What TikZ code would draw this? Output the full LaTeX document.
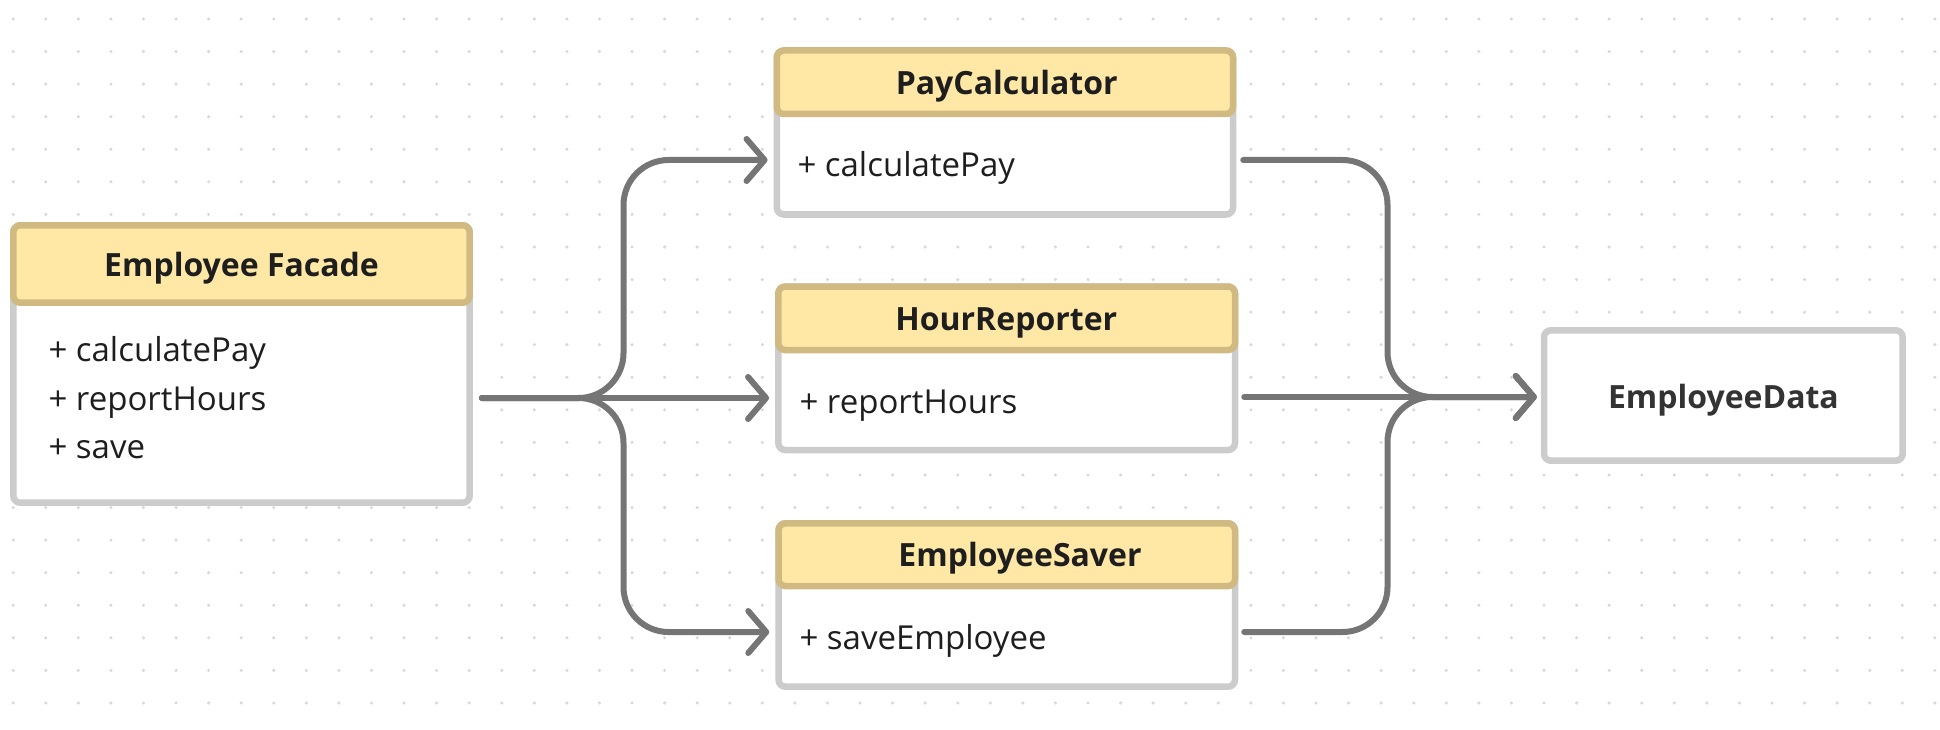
\documentclass[tikz,border=0pt]{standalone}
\usepackage{fontspec}
\setmainfont{Open Sans}
\usetikzlibrary{arrows.meta,fit}
\definecolor{hdrfill}{HTML}{FFE8A6}
\definecolor{hdrline}{HTML}{D0BA82}
\definecolor{boxline}{HTML}{CCCCCC}
\definecolor{wire}{HTML}{757575}
\definecolor{dotc}{HTML}{D8D8D8}
\definecolor{ink}{HTML}{1E1E1E}
\definecolor{inkb}{HTML}{333333}
\begin{document}
\begin{tikzpicture}[x=1pt,y=-1pt,
 bodybox/.style={draw=boxline, fill=white, line width=6.5pt, rounded corners=7pt, inner sep=0pt},
 headbox/.style={draw=hdrline, fill=hdrfill, line width=6.5pt, rounded corners=7pt, inner sep=0pt},
 title/.style={font=\fontsize{32}{38}\selectfont\bfseries, text=ink, anchor=base, inner sep=0pt},
 member/.style={font=\fontsize{33}{38}\selectfont, text=ink, anchor=base west, inner sep=0pt},
 wireline/.style={draw=wire, line width=6pt, line cap=round, line join=round, rounded corners=45pt},
 tip/.style={-{Straight Barb[length=18pt,width=42pt,round]}},
]
\useasboundingbox (0,0) rectangle (1940,730);
\fill[white] (0,0) rectangle (1940,730);
\foreach \i in {0,...,59}{\foreach \j in {0,...,21}{\fill[dotc] (13.2+32.57*\i, 19+32.57*\j) circle (1.7pt);}}

% Employee Facade
\node[bodybox, fit={(13.3,225.3) (469.7,502.7)}] (fac) {};
\node[headbox, fit={(13.3,225.3) (469.7,302.7)}] (fach) {};
\node[title] (fact) at (241.5,276) {Employee Facade};
\node[member] (facm1) at (48.3,361.7) {+ calculatePay};
\node[member] (facm2) at (48.3,410) {+ reportHours};
\node[member] (facm3) at (48.3,458) {+ save};

% PayCalculator
\node[bodybox, fit={(776.8,50.5) (1233,214.5)}] (pc) {};
\node[headbox, fit={(776.8,50.5) (1233,114)}] (pch) {};
\node[title] (pct) at (1006.7,95) {PayCalculator};
\node[member] (pcm) at (797.3,176.7) {+ calculatePay};

% HourReporter
\node[bodybox, fit={(778.3,286.5) (1235,450)}] (hr) {};
\node[headbox, fit={(778.3,286.5) (1235,350)}] (hrh) {};
\node[title] (hrt) at (1006.3,330) {HourReporter};
\node[member] (hrm) at (799.3,413.3) {+ reportHours};

% EmployeeSaver
\node[bodybox, fit={(778.5,523.3) (1235,686.7)}] (es) {};
\node[headbox, fit={(778.5,523.3) (1235,586)}] (esh) {};
\node[title] (est) at (1020,566) {EmployeeSaver};
\node[member] (esm) at (799.3,649.3) {+ saveEmployee};

% EmployeeData
\node[bodybox, fit={(1544,330.3) (1902.7,460.7)}] (ed) {};
\node[title, text=inkb] (edt) at (1723.4,408.3) {EmployeeData};

% connector points
\coordinate (f0) at ([xshift=9pt]fac.east |- 0,398);
\coordinate (lsplit) at (623.5,398);
\coordinate (pcin) at ([xshift=-6pt]pc.west |- 0,160);
\coordinate (hrin) at ([xshift=-6pt]hr.west |- 0,398);
\coordinate (esin) at ([xshift=-6pt]es.west |- 0,632);
\coordinate (pcout) at ([xshift=7pt]pc.east |- 0,160);
\coordinate (hrout) at ([xshift=6pt]hr.east |- 0,397);
\coordinate (esout) at ([xshift=6pt]es.east |- 0,632);
\coordinate (rmerge) at (1387.5,397);
\coordinate (edin) at ([xshift=-4pt]ed.west |- 0,397);

\draw[wireline, tip] (f0) -- (lsplit) |- (pcin);
\draw[wireline, tip] (f0) -- (hrin);
\draw[wireline, tip] (f0) -- (lsplit) |- (esin);
\draw[wireline, tip] (pcout) -| (rmerge) -- (edin);
\draw[wireline, tip] (hrout) -- (edin);
\draw[wireline, tip] (esout) -| (rmerge) -- (edin);
\end{tikzpicture}
\end{document}
